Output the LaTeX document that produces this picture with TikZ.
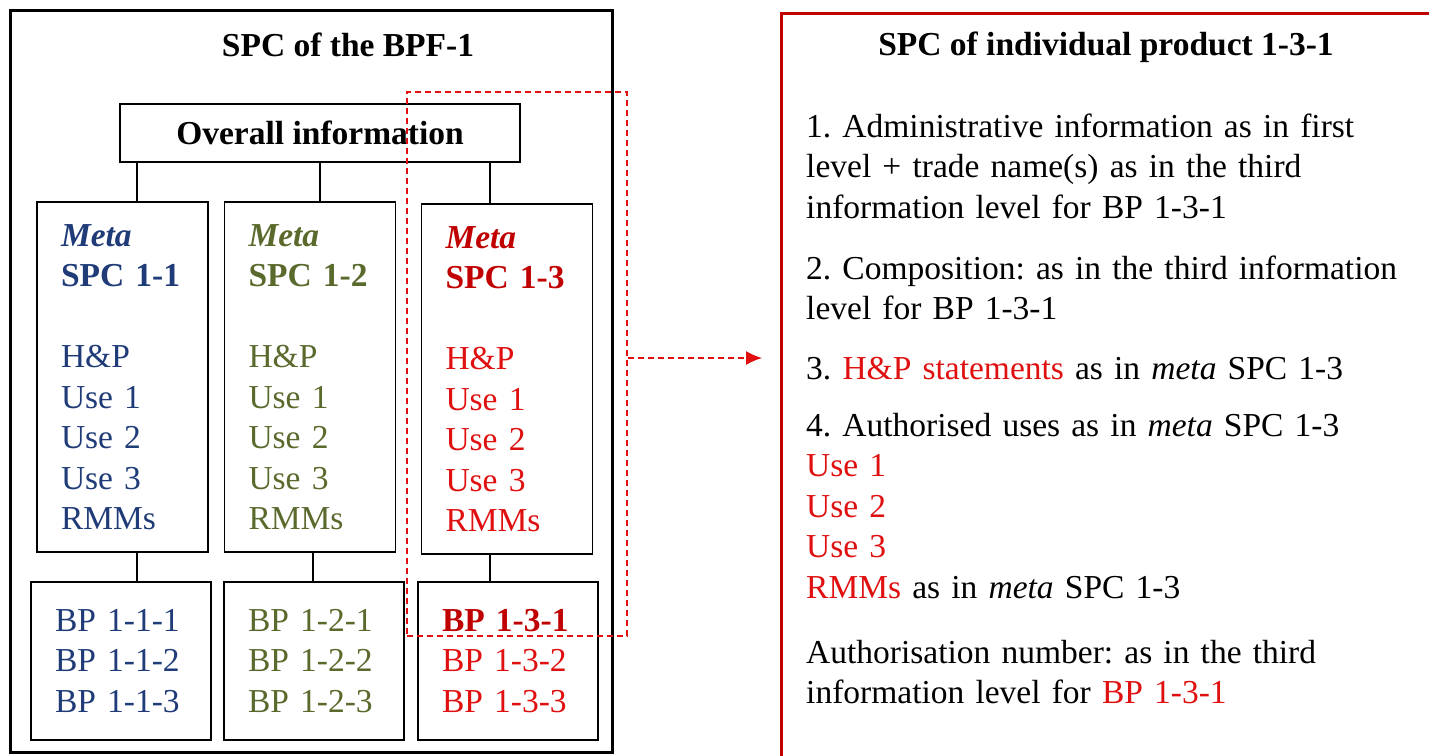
\documentclass[tikz,border=0pt]{standalone}
\usepackage{fontspec}
\setmainfont{Liberation Serif}
\usetikzlibrary{positioning,arrows.meta}
\definecolor{spcblue}{HTML}{1F3B78}
\definecolor{spcolive}{HTML}{5A6A2C}
\definecolor{spcred}{HTML}{E01010}
\definecolor{spcdred}{HTML}{C00000}
\newcommand{\txt}{\fontsize{33.5}{40.5}\selectfont\frenchspacing}
\newcommand{\rd}[1]{\textcolor{spcred}{#1}}
\newcommand{\mt}{\textit{meta}}

\begin{document}
\begin{tikzpicture}[x=1pt,y=-1pt,
	colbox/.style={draw,line width=1.4pt,text width=123pt,inner xsep=24pt,inner ysep=0pt,minimum height=350pt,align=left,font=\txt},
	bpbox/.style={draw,line width=1.4pt,text width=132pt,inner xsep=24pt,inner ysep=0pt,minimum height=158pt,align=left,font=\txt},
	rtext/.style={anchor=base west,inner sep=0pt,text width=610pt,align=left,font=\txt}]
		\clip (0,0) rectangle (1429,755);
		\fill[white] (0,0) rectangle (1429,755);
		
		\draw[line width=3pt] (10,10) rectangle (612,752);
		\draw[spcdred,line width=3pt] (781,13) rectangle (1460,790);
		
		\node[font=\txt\bfseries] (T1) at (348,45) {SPC of the BPF-1};
		\node[font=\txt\bfseries] (T2) at (1106,47) {SPC of individual product 1-3-1};
		
		\node[draw,line width=1.4pt,minimum width=400pt,minimum height=58pt,font=\txt\bfseries] (ov) at (320,133) {Overall information};
		
		\node[colbox,text=spcblue] (c1) at (122.5,377) {\textbf{\textit{Meta}}\\ \textbf{SPC 1-1}\\[40.5pt] H\&P\\ Use 1\\ Use 2\\ Use 3\\ RMMs};
		\node[colbox,text=spcolive] (c2) at (310,377) {\textbf{\textit{Meta}}\\ \textbf{SPC 1-2}\\[40.5pt] H\&P\\ Use 1\\ Use 2\\ Use 3\\ RMMs};
		\node[colbox,text=spcred] (c3) at (507,379) {\textcolor{spcdred}{\textbf{\textit{Meta}}}\\ \textcolor{spcdred}{\textbf{SPC 1-3}}\\[40.5pt] H\&P\\ Use 1\\ Use 2\\ Use 3\\ RMMs};
		
		\node[bpbox,text=spcblue] (b1) at (121,661) {BP 1-1-1\\ BP 1-1-2\\ BP 1-1-3};
		\node[bpbox,text=spcolive] (b2) at (314,661) {BP 1-2-1\\ BP 1-2-2\\ BP 1-2-3};
		\node[bpbox,text=spcred] (b3) at (508,661) {\textcolor{spcdred}{\textbf{BP 1-3-1}}\\ BP 1-3-2\\ BP 1-3-3};
		
		\begin{scope}[line width=1.4pt]
			\draw ([xshift=14.5pt]c1.north) -- ([xshift=14.5pt]c1.north |- ov.south);
			\draw ([xshift=10pt]c2.north) -- ([xshift=10pt]c2.north |- ov.south);
			\draw ([xshift=-17pt]c3.north) -- ([xshift=-17pt]c3.north |- ov.south);
			\draw ([xshift=14.5pt]c1.south) -- ([xshift=14.5pt]c1.south |- b1.north);
			\draw ([xshift=3pt]c2.south) -- ([xshift=3pt]c2.south |- b2.north);
			\draw ([xshift=-17pt]c3.south) -- ([xshift=-17pt]c3.south |- b3.north);
		\end{scope}
		
		\begin{scope}[spcred,line width=1.3pt,dash pattern=on 6pt off 4pt]
			\node[draw,minimum width=220pt,minimum height=544pt] (hl) at (517,364) {};
			\coordinate (ae) at (762,358);
			\draw[-{Latex[length=16pt,width=14pt]}] (hl.east |- ae) -- (ae);
		\end{scope}
		
		\node[rtext] (r1) at (806,137) {1. Administrative information as in first\\ level + trade name(s) as in the third\\ information level for BP 1-3-1};
		\node[rtext] (r2) at (806,279) {2. Composition: as in the third information\\ level for BP 1-3-1};
		\node[rtext] (r3) at (806,379) {3. \rd{H\&P statements} as in \mt{} SPC 1-3};
		\node[rtext] (r4) at (806,436) {4. Authorised uses as in \mt{} SPC 1-3\\ \rd{Use 1}\\ \rd{Use 2}\\ \rd{Use 3}\\ \rd{RMMs} as in \mt{} SPC 1-3};
		\node[rtext] (r5) at (806,663) {Authorisation number: as in the third\\ information level for \rd{BP 1-3-1}};
	\end{tikzpicture}
\end{document}
